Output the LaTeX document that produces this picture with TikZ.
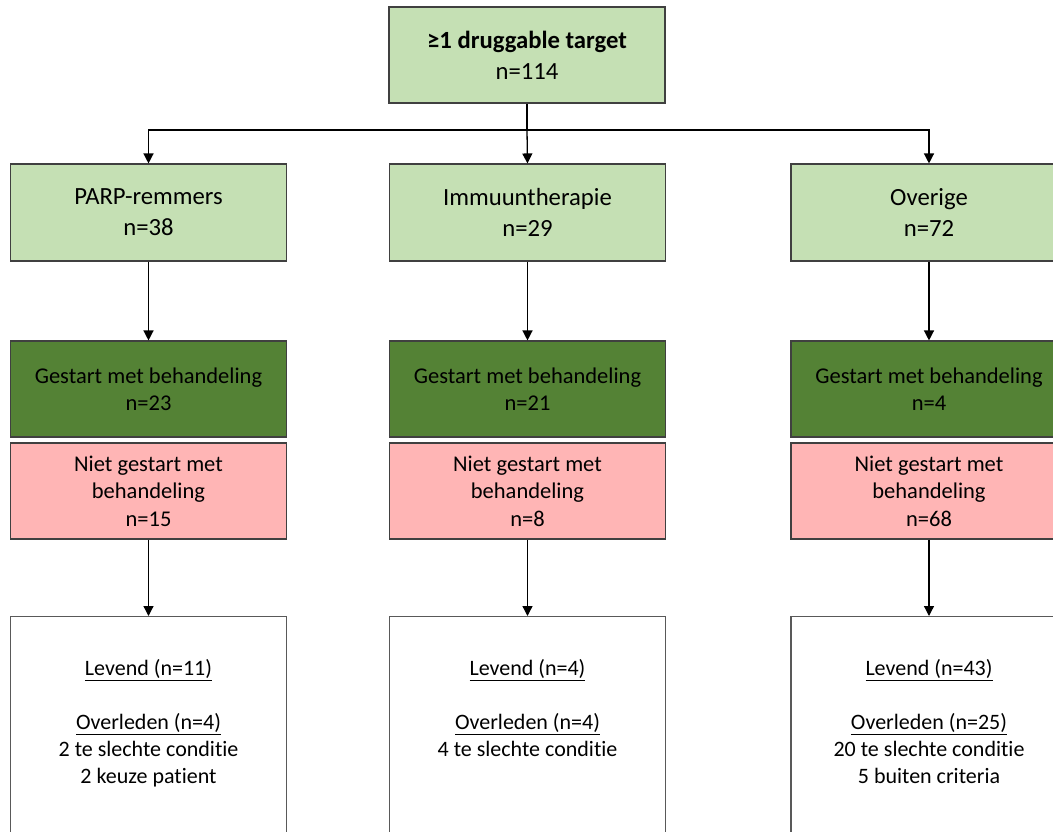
\documentclass[tikz,border=0pt]{standalone}
\usepackage{fontspec}
\setmainfont{Carlito}[Ligatures={NoCommon}]
\usetikzlibrary{arrows.meta}
\definecolor{lgreen}{HTML}{C5E0B4}
\definecolor{dgreen}{HTML}{548235}
\definecolor{lpink}{HTML}{FFB5B5}
\definecolor{bord}{HTML}{404040}
\begin{document}
\begin{tikzpicture}[x=1pt,y=-1pt,
  box/.style={draw=bord,line width=1.1pt,minimum width=276pt,inner sep=0pt,align=center,text=black},
  catbox/.style={box,fill=lgreen,minimum height=97pt,font=\fontsize{24.7}{31}\selectfont},
  startbox/.style={box,fill=dgreen,minimum height=96pt,font=\fontsize{22.5}{27}\selectfont},
  notbox/.style={box,fill=lpink,minimum height=96pt,font=\fontsize{22.5}{27.5}\selectfont},
  outbox/.style={box,fill=white,draw=black!65,minimum height=234pt,font=\fontsize{22}{27}\selectfont},
  outtext/.style={font=\fontsize{22}{27}\selectfont,align=center,anchor=north,inner sep=0pt},
  arr/.style={-{Triangle[width=10pt,length=10pt]},line width=1.3pt,black},
  ln/.style={line width=1.3pt,black}]
\useasboundingbox (0,0) rectangle (1053,832);
\clip (0,0) rectangle (1053,832);
\fill[white] (0,0) rectangle (1053,832);
% top
\node[box,fill=lgreen,minimum height=96pt,font=\fontsize{24.7}{31}\selectfont] (top) at (527,55) {\textbf{≥1 druggable target}\\n=114};
% row 2
\node[catbox] (c1) at (148.5,212.5) {PARP-remmers\\n=38};
\node[catbox] (c2) at (527.5,212.5) {Immuuntherapie\\n=29};
\node[catbox] (c3) at (929,212.5) {Overige\\n=72};
% row 3
\node[startbox] (s1) at (148.5,389) {Gestart met behandeling\\n=23};
\node[startbox] (s2) at (527.5,389) {Gestart met behandeling\\n=21};
\node[startbox] (s3) at (929,389) {Gestart met behandeling\\n=4};
% row 4
\node[notbox] (p1) at (148.5,491) {Niet gestart met\\behandeling\\n=15};
\node[notbox] (p2) at (527.5,491) {Niet gestart met\\behandeling\\n=8};
\node[notbox] (p3) at (929,491) {Niet gestart met\\behandeling\\n=68};
% row 5
\node[outbox,anchor=north] (o1) at (148.5,616) {};
\node[outbox,anchor=north] (o2) at (527.5,616) {};
\node[outbox,anchor=north] (o3) at (929,616) {};
\node[outtext] (t1) at (148.5,659) {\underline{Levend (n=11)}\\[27pt]\underline{Overleden (n=4)}\\2 te slechte conditie\\2 keuze patient};
\node[outtext] (t2) at (527.5,659) {\underline{Levend (n=4)}\\[27pt]\underline{Overleden (n=4)}\\4 te slechte conditie};
\node[outtext] (t3) at (929,659) {\underline{Levend (n=43)}\\[27pt]\underline{Overleden (n=25)}\\20 te slechte conditie\\5 buiten criteria};
% connectors
\coordinate (bus) at (527,130);
\draw[ln] (top.south) -- (bus);
\draw[arr] (bus) -| (c1.north);
\draw[arr] (bus) -| (c3.north);
\draw[arr] (bus) -- (c2.north);
\draw[arr] (c1) -- (s1);
\draw[arr] (c2) -- (s2);
\draw[arr] (c3) -- (s3);
\draw[arr] (p1) -- (o1);
\draw[arr] (p2) -- (o2);
\draw[arr] (p3) -- (o3);
\end{tikzpicture}
\end{document}
